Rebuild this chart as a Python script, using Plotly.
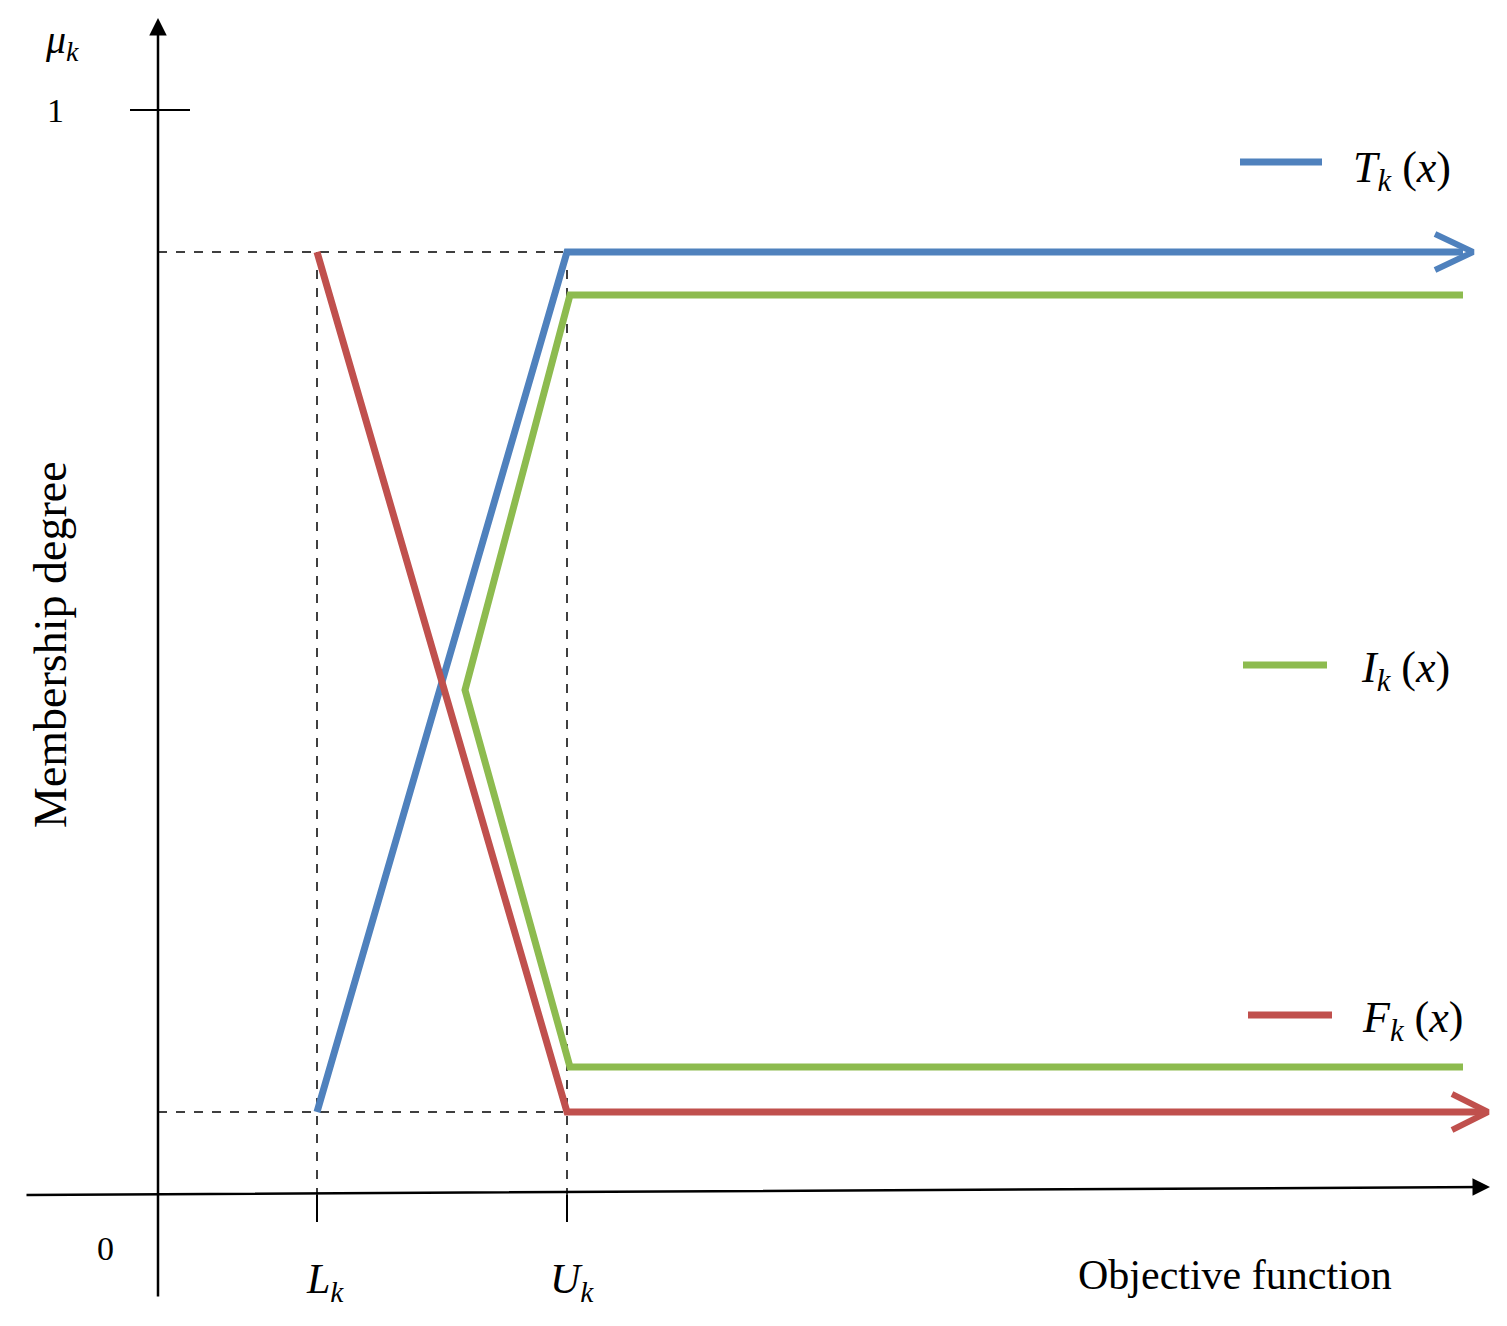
import plotly.graph_objects as go

# pixel-style schematic coordinates (x right, y down)
X0, XL, XU, XEND, XARR = 158, 317, 567, 1463, 1473
Y_TOP, Y_BOT, Y_AX, Y_ONE = 252, 1112, 1195, 110
T_x = [XL, XU, XEND]; T_y = [Y_BOT, Y_TOP, Y_TOP]
I_x = [XEND, 570, 465, 570, XEND]; I_y = [295, 295, 690, 1067, 1067]
F_x = [XL, XU, XEND]; F_y = [Y_TOP, Y_BOT, Y_BOT]

BLUE, GREEN, RED = "#4F81BD", "#8DBB4F", "#C0504D"
FONT = "Liberation Serif"

fig = go.Figure()
def line(x, y, color, w=7, dash=None):
    fig.add_trace(go.Scatter(x=x, y=y, mode="lines", line=dict(color=color, width=w, dash=dash),
                             hoverinfo="skip", showlegend=False))

line([X0, XU], [Y_TOP, Y_TOP], "black", 1.5, "dash")
line([X0, XU], [Y_BOT, Y_BOT], "black", 1.5, "dash")
line([XL, XL], [Y_TOP, 1222], "black", 1.5, "dash")
line([XU, XU], [Y_TOP, 1222], "black", 1.5, "dash")
line([130, 190], [Y_ONE, Y_ONE], "black", 2)
line([XL, XL], [Y_AX, 1222], "black", 2)
line([XU, XU], [Y_AX, 1222], "black", 2)

line(T_x, T_y, BLUE)
line(I_x, I_y, GREEN)
line(F_x, F_y, RED)
line([1240, 1322], [162, 162], BLUE)
line([1243, 1327], [665, 665], GREEN)
line([1248, 1332], [1015, 1015], RED)
# open chevron arrowheads
line([1435, XARR, 1435], [Y_TOP - 18, Y_TOP, Y_TOP + 18], BLUE, 6)
line([1452, 1488, 1452], [Y_BOT - 18, Y_BOT, Y_BOT + 18], RED, 6)
line([XEND, 1485], [Y_BOT, Y_BOT], RED, 7)

ann = []
def arrow(x0, y0, x1, y1, color, w):
    ann.append(dict(x=x1, y=y1, ax=x0, ay=y0, xref="x", yref="y", axref="x", ayref="y",
                    showarrow=True, arrowhead=2, arrowsize=1.4,
                    arrowwidth=w, arrowcolor=color, text=""))
arrow(X0, 1298, X0, 18, "black", 2.5)
arrow(25, Y_AX, 1490, 1187, "black", 2.5)

def txt(x, y, s, size=40, angle=0):
    ann.append(dict(x=x, y=y, xref="x", yref="y", text=s, showarrow=False, textangle=angle,
                    font=dict(family=FONT, size=size, color="black")))
txt(62, 42, "<i>μ</i><sub><i>k</i></sub>", 40)
txt(55, 110, "1", 34)
txt(105, 1248, "0", 34)
txt(325, 1282, "<i>L</i><sub><i>k</i></sub>", 42)
txt(572, 1282, "<i>U</i><sub><i>k</i></sub>", 42)
txt(1235, 1275, "Objective function", 42)
txt(50, 645, "Membership degree", 46, -90)
txt(1402, 170, "<i>T</i><sub><i>k</i></sub> (<i>x</i>)", 44)
txt(1405, 670, "<i>I</i><sub><i>k</i></sub> (<i>x</i>)", 44)
txt(1412, 1020, "<i>F</i><sub><i>k</i></sub> (<i>x</i>)", 44)

fig.update_layout(width=1491, height=1310, margin=dict(l=0, r=0, t=0, b=0),
                  plot_bgcolor="white", paper_bgcolor="white", annotations=ann,
                  xaxis=dict(range=[8, 1499], visible=False, fixedrange=True),
                  yaxis=dict(range=[1318, 8], visible=False, fixedrange=True))
fig.write_html("out.html")
